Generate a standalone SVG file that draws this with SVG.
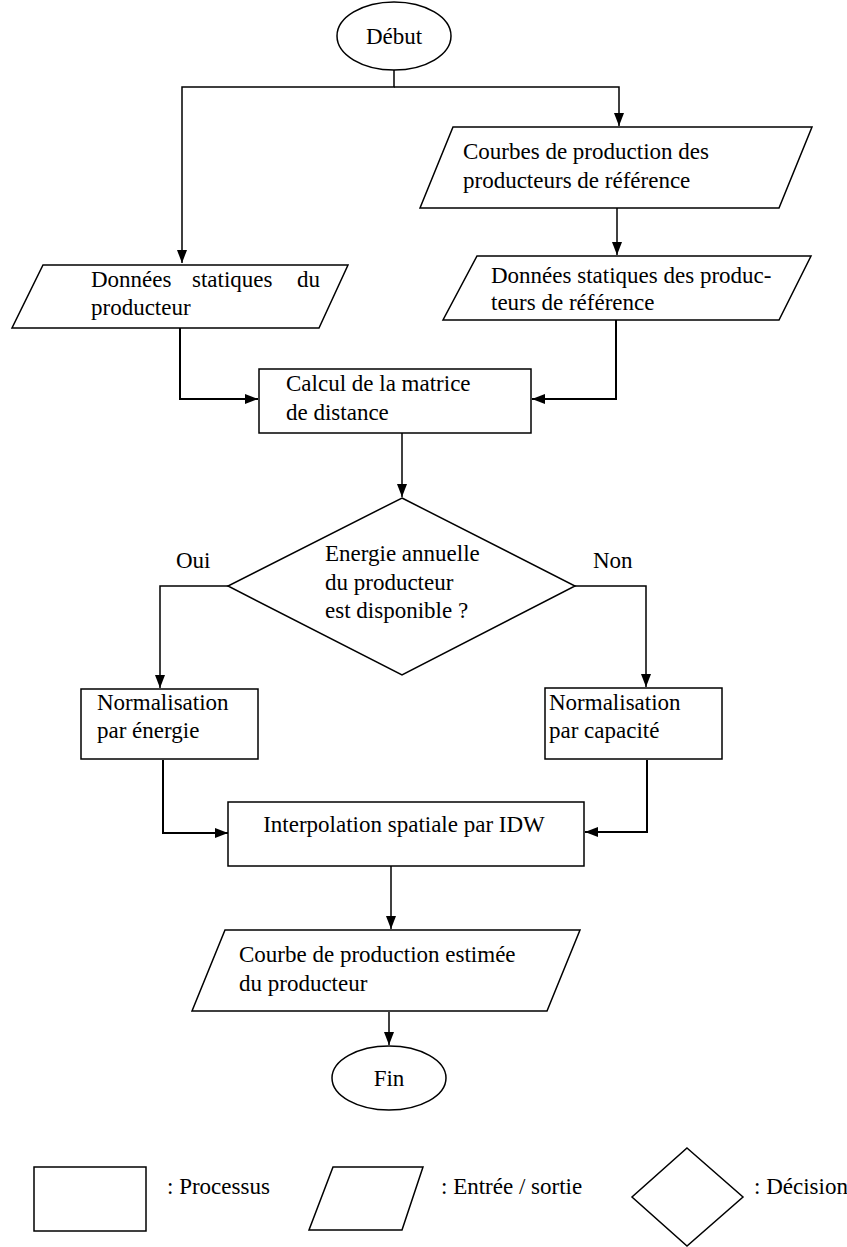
<svg xmlns="http://www.w3.org/2000/svg" width="847" height="1247" viewBox="0 0 847 1247" font-family="'Liberation Serif', 'DejaVu Serif', serif" font-size="23">
<style>
.s{fill:#fff;stroke:#000;stroke-width:1.5}
.c{fill:none;stroke:#000;stroke-width:1.5}
.c2{fill:none;stroke:#000;stroke-width:2}
.t{font-family:'Liberation Serif', 'DejaVu Serif', serif;font-size:23px;fill:#000}
.m{text-anchor:middle}
</style>
<defs>
<marker id="ah" markerUnits="userSpaceOnUse" markerWidth="14" markerHeight="10" refX="13" refY="5" orient="auto">
<path d="M0,0 L13,5 L0,10 z" fill="#000"/>
</marker>
</defs>
<rect width="847" height="1247" fill="#fff"/>
<g id="connectors">
<path class="c" d="M394,70 V87 H182 V263" marker-end="url(#ah)"/>
<path class="c" d="M394,87 H619 V126" marker-end="url(#ah)"/>
<path class="c" d="M617,208 V255" marker-end="url(#ah)"/>
<path class="c2" d="M180,328 V399 H258" marker-end="url(#ah)"/>
<path class="c2" d="M616,320 V399 H532" marker-end="url(#ah)"/>
<path class="c" d="M402,433 V497" marker-end="url(#ah)"/>
<path class="c" d="M228,586 H160 V688" marker-end="url(#ah)"/>
<path class="c" d="M575,586 H646 V687" marker-end="url(#ah)"/>
<path class="c2" d="M163,760 V833 H228" marker-end="url(#ah)"/>
<path class="c2" d="M647,760 V832 H585" marker-end="url(#ah)"/>
<path class="c" d="M391,866 V929" marker-end="url(#ah)"/>
<path class="c" d="M389,1012 V1045" marker-end="url(#ah)"/>
</g>
<g class="t">
<g id="debut">
<ellipse class="s" cx="394" cy="36" rx="57" ry="34"/>
<text class="m" x="394" y="44">Début</text>
</g>
<g id="courbes-ref">
<polygon class="s" points="453,127 812,127 779,208 420,208"/>
<text x="463" y="159">Courbes de production des</text>
<text x="463" y="188">producteurs de référence</text>
</g>
<g id="donnees-ref">
<polygon class="s" points="477,256 811,256 779,320 443,320"/>
<text x="491" y="283">Données statiques des produc-</text>
<text x="491" y="310">teurs de référence</text>
</g>
<g id="donnees-prod">
<polygon class="s" points="43,265 348,265 319,328 12,328"/>
<text y="287"><tspan x="91">Données</tspan><tspan x="192">statiques</tspan><tspan x="297">du</tspan></text>
<text x="91" y="315">producteur</text>
</g>
<g id="calcul">
<rect class="s" x="259" y="369" width="272" height="64"/>
<text x="286" y="391">Calcul de la matrice</text>
<text x="286" y="420">de distance</text>
</g>
<g id="decision">
<polygon class="s" points="402,498 575,586 402,675 228,586"/>
<text x="325" y="561">Energie annuelle</text>
<text x="325" y="590">du producteur</text>
<text x="325" y="618">est disponible ?</text>
</g>
<text x="176" y="568">Oui</text>
<text x="593" y="568">Non</text>
<g id="norm-energie">
<rect class="s" x="81" y="689" width="177" height="70"/>
<text x="97" y="710">Normalisation</text>
<text x="97" y="738">par énergie</text>
</g>
<g id="norm-capacite">
<rect class="s" x="545" y="688" width="177" height="71"/>
<text x="549" y="710">Normalisation</text>
<text x="549" y="738">par capacité</text>
</g>
<g id="interpolation">
<rect class="s" x="228" y="802" width="356" height="64"/>
<text class="m" x="404" y="832">Interpolation spatiale par IDW</text>
</g>
<g id="courbe-estimee">
<polygon class="s" points="225,930 580,930 547,1011 192,1011"/>
<text x="239" y="962">Courbe de production estimée</text>
<text x="239" y="991">du producteur</text>
</g>
<g id="fin">
<ellipse class="s" cx="389" cy="1078" rx="57" ry="32"/>
<text class="m" x="389" y="1086">Fin</text>
</g>
<g id="legend">
<rect class="s" x="34" y="1167" width="112" height="64"/>
<text x="167" y="1194">: Processus</text>
<polygon class="s" points="333,1167 423,1167 402,1230 309,1230"/>
<text x="441" y="1194">: Entrée / sortie</text>
<polygon class="s" points="687,1148 743,1197 687,1246 632,1197"/>
<text x="754" y="1194">: Décision</text>
</g>
</g>
</svg>
